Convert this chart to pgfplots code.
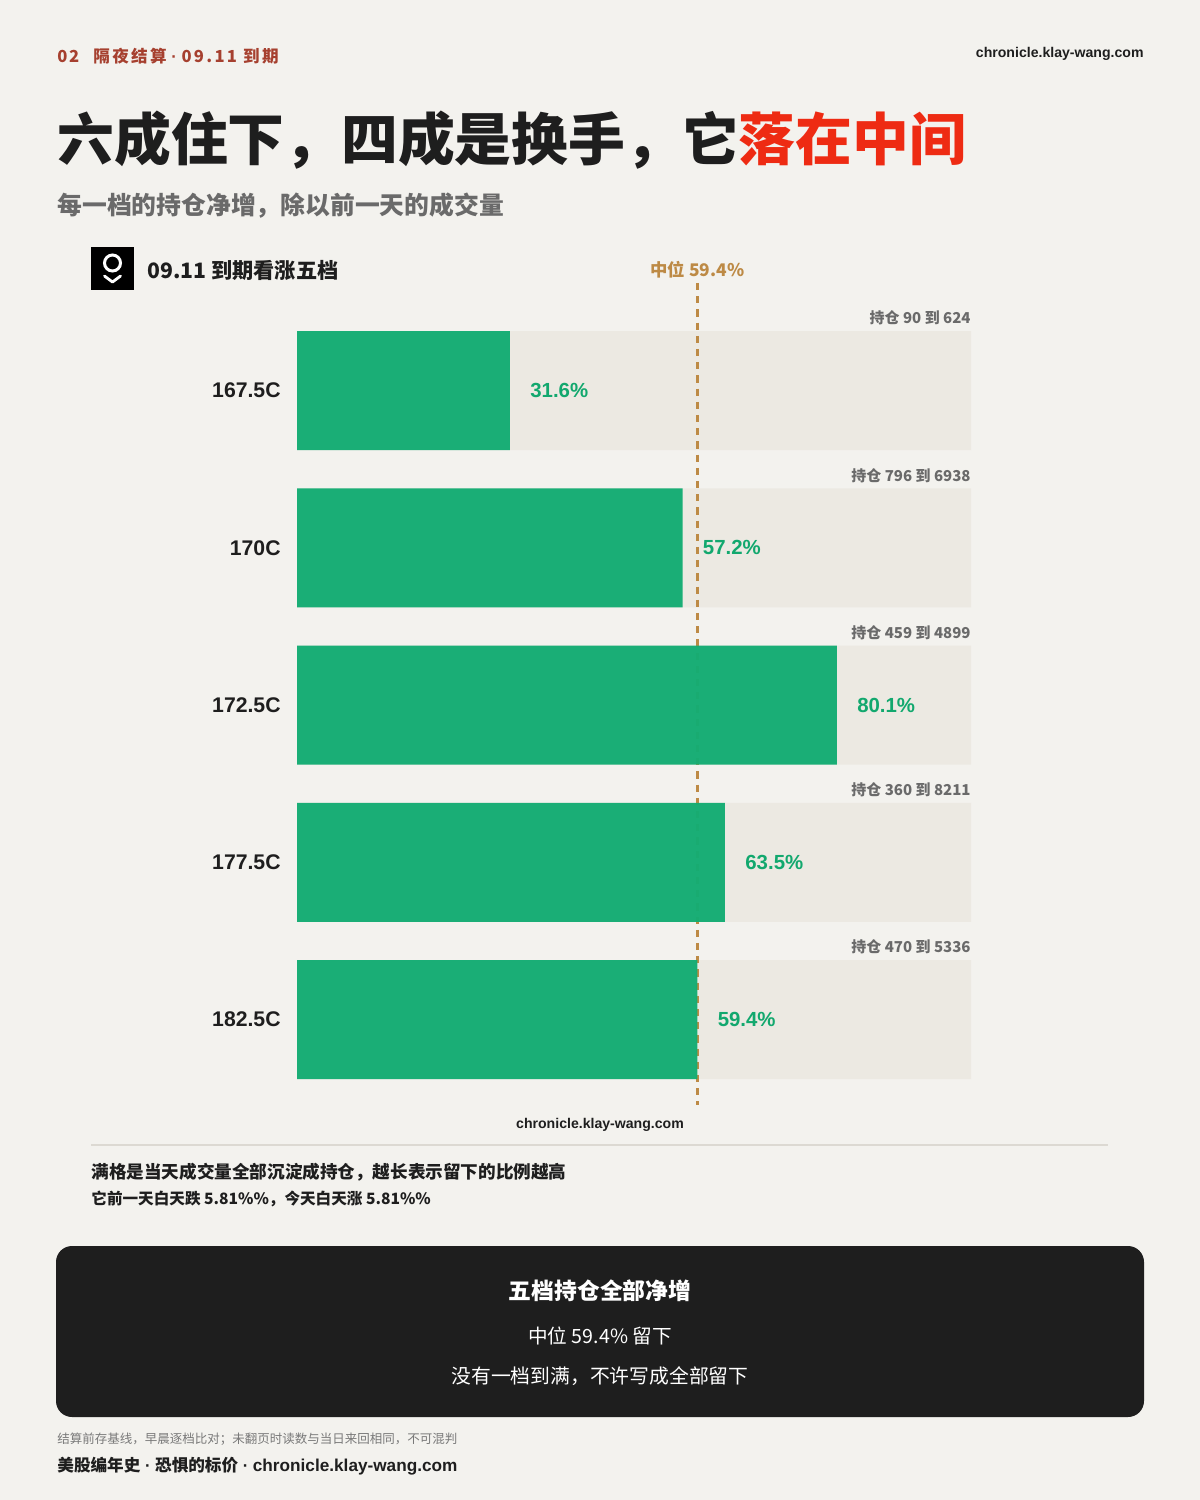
\documentclass[border=0pt]{standalone}
\usepackage{fontspec}
\setmainfont{Noto Sans CJK SC}
\newfontfamily\lat{Liberation Sans}
\usepackage{pgfplots}
\pgfplotsset{compat=1.18}

\definecolor{bg}{HTML}{F3F2EE}
\definecolor{track}{HTML}{ECE9E2}
\definecolor{barg}{HTML}{14AD73}
\definecolor{gtext}{HTML}{12A86E}
\definecolor{median}{HTML}{BD8A45}
\definecolor{ink}{HTML}{1E1E1E}
\definecolor{hot}{HTML}{EE2B13}
\definecolor{head}{HTML}{A6402F}
\definecolor{sub}{HTML}{6A6A6A}
\definecolor{rule}{HTML}{DCD9D2}

\newcommand{\fs}[1]{\fontsize{#1}{#1}\selectfont}
\newcommand{\dt}{{\lat\ ·\ }}

\begin{document}
\begin{tikzpicture}
\begin{scope}[x=0.5pt,y=-0.5pt]
  \fill[bg] (0,0) rectangle (1200,1500);
  % header
  \node[anchor=west,inner sep=0,text=head] at (57,56) {\bfseries\fs{8.3}\addfontfeature{LetterSpace=10}02};
  \node[anchor=west,inner sep=0,text=head] at (93,56) {\bfseries\fs{8.3}\addfontfeature{LetterSpace=14}隔夜结算\dt 09.11 到期};
  \node[anchor=east,inner sep=0,text=ink] at (1144,54) {\lat\bfseries\fs{7.05}chronicle.klay-wang.com};
  % title
  \node[anchor=west,inner sep=0,text=ink] at (57,140) {\bfseries\fs{28.4}六成住下，四成是换手，它{\color{hot}落在中间}};
  \node[anchor=west,inner sep=0,text=sub] at (57,206) {\bfseries\fs{12.4}每一档的持仓净增，除以前一天的成交量};
  % logo + chart title
  \fill[black] (91,247) rectangle (134,290);
  \draw[white,line width=1.5pt] (112.5,263) circle (8);
  \draw[white,line width=1.4pt,line join=round,line cap=round] (104.5,276) -- (112.5,282) -- (120.5,276);
  \node[anchor=west,inner sep=0,text=ink] at (147,270) {\bfseries\fs{10.6}09.11 到期看涨五档};
  % footnotes
  \draw[rule,line width=0.6pt] (91,1145) -- (1108,1145);
  \node[inner sep=0,text=ink] at (600,1125) {\lat\bfseries\fs{7.05}chronicle.klay-wang.com};
  \node[anchor=west,inner sep=0,text=ink] at (91,1172) {\bfseries\fs{8.8}满格是当天成交量全部沉淀成持仓，越长表示留下的比例越高};
  \node[anchor=west,inner sep=0,text=ink] at (91,1199) {\bfseries\fs{7.8}它前一天白天跌 5.81\%\%，今天白天涨 5.81\%\%};
  % summary box
  \fill[ink,rounded corners=8pt] (56,1246) rectangle (1144,1417);
  \node[inner sep=0,text=white] at (600,1291) {\bfseries\fs{11.4}五档持仓全部净增};
  \node[inner sep=0,text=white] at (600,1336) {\fs{9.8}中位 59.4\% 留下};
  \node[inner sep=0,text=white] at (600,1376) {\fs{9.9}没有一档到满，不许写成全部留下};
  % footer
  \node[anchor=west,inner sep=0,text=sub!90] at (57,1439) {\fs{6.25}结算前存基线，早晨逐档比对；未翻页时读数与当日来回相同，不可混判};
  \node[anchor=west,inner sep=0,text=ink] at (57,1466) {\bfseries\fs{8.3}美股编年史\dt 恐惧的标价\dt{\lat\fs{8.6}chronicle.klay-wang.com}};
\end{scope}

\begin{axis}[
  at={(148.5pt,-549.0625pt)}, anchor=south west,
  width=337pt, height=393.125pt, scale only axis,
  hide axis, clip=false,
  xmin=0, xmax=100, ymin=-0.5, ymax=4.5, y dir=reverse,
  xbar, bar width=59.5pt, bar shift=0pt,
]
  % full-scale tracks
  \addplot[fill=track, draw=none] coordinates {(100,0) (100,1) (100,2) (100,3) (100,4)};
  % median line
  \draw[median, line width=1.35pt, dash pattern=on 3.6pt off 3pt] (axis cs:59.4,-0.684) -- (axis cs:59.4,4.544);
  \node[text=median, inner sep=0] at (axis cs:59.4,-0.771) {\bfseries\fs{8.7}中位 59.4\%};
  % retained share
  \addplot[fill=barg, draw=none, fill opacity=0.97,
    point meta=explicit symbolic,
    nodes near coords,
    every node near coord/.style={anchor=west, inner sep=0, xshift=10pt, text=gtext, text opacity=1, font=\lat\bfseries\fs{10.2}},
  ] coordinates {(31.6,0) [31.6\%] (57.2,1) [57.2\%] (80.1,2) [80.1\%] (63.5,3) [63.5\%] (59.4,4) [59.4\%]};
  % category names
  \node[anchor=east, inner sep=0, xshift=-8pt, text=ink] at (axis cs:0,0) {\lat\bfseries\fs{10.6}167.5C};
  \node[anchor=east, inner sep=0, xshift=-8pt, text=ink] at (axis cs:0,1) {\lat\bfseries\fs{10.6}170C};
  \node[anchor=east, inner sep=0, xshift=-8pt, text=ink] at (axis cs:0,2) {\lat\bfseries\fs{10.6}172.5C};
  \node[anchor=east, inner sep=0, xshift=-8pt, text=ink] at (axis cs:0,3) {\lat\bfseries\fs{10.6}177.5C};
  \node[anchor=east, inner sep=0, xshift=-8pt, text=ink] at (axis cs:0,4) {\lat\bfseries\fs{10.6}182.5C};
  % open interest ranges
  \node[anchor=east, inner sep=0, text=sub] at (axis cs:100,-0.461) {\bfseries\fs{7.5}持仓 90 到 624};
  \node[anchor=east, inner sep=0, text=sub] at (axis cs:100,0.539) {\bfseries\fs{7.5}持仓 796 到 6938};
  \node[anchor=east, inner sep=0, text=sub] at (axis cs:100,1.539) {\bfseries\fs{7.5}持仓 459 到 4899};
  \node[anchor=east, inner sep=0, text=sub] at (axis cs:100,2.539) {\bfseries\fs{7.5}持仓 360 到 8211};
  \node[anchor=east, inner sep=0, text=sub] at (axis cs:100,3.539) {\bfseries\fs{7.5}持仓 470 到 5336};
\end{axis}
\pgfresetboundingbox
\path (0,0) rectangle (600pt,-750pt);
\end{tikzpicture}
\end{document}
